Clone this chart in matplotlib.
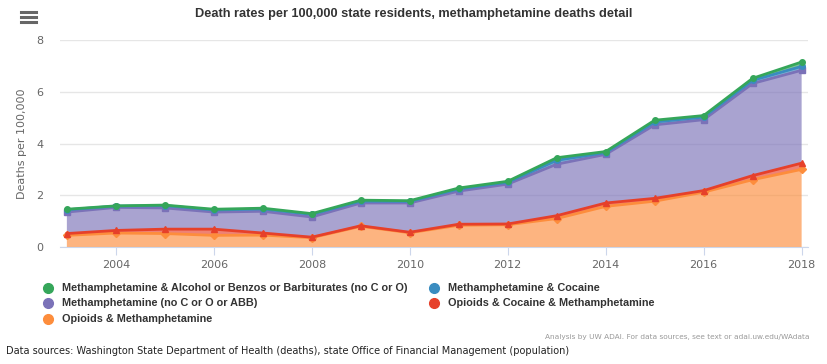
import matplotlib.pyplot as plt
from matplotlib.lines import Line2D

plt.rcParams['font.family'] = ['DejaVu Sans']
head_font = ['Liberation Sans', 'DejaVu Sans']

# data (per 100,000 residents), stacked bottom -> top
years = list(range(2003, 2019))
opioids_meth = [0.45, 0.54, 0.52, 0.45, 0.46, 0.36, 0.80, 0.55, 0.84, 0.86, 1.10, 1.57, 1.77, 2.12, 2.60, 3.00]
opioids_coc_meth = [0.07, 0.10, 0.17, 0.24, 0.08, 0.02, 0.02, 0.02, 0.04, 0.03, 0.11, 0.13, 0.11, 0.06, 0.16, 0.24]
meth_only = [0.83, 0.89, 0.82, 0.66, 0.84, 0.78, 0.88, 1.13, 1.28, 1.54, 1.99, 1.88, 2.84, 2.74, 3.56, 3.59]
meth_cocaine = [0.09, 0.05, 0.09, 0.08, 0.09, 0.10, 0.07, 0.06, 0.08, 0.07, 0.15, 0.07, 0.11, 0.10, 0.12, 0.15]
meth_alc_benz = [0.02, 0.01, 0.02, 0.03, 0.03, 0.03, 0.04, 0.03, 0.04, 0.04, 0.10, 0.04, 0.07, 0.06, 0.08, 0.17]

names = ['Opioids & Methamphetamine',
         'Opioids & Cocaine & Methamphetamine',
         'Methamphetamine (no C or O or ABB)',
         'Methamphetamine & Cocaine',
         'Methamphetamine & Alcohol or Benzos or Barbiturates (no C or O)']
colors = ['#fd8d3c', '#e6402a', '#7b72b8', '#3a8cc0', '#35a65a']
markers = ['D', '^', 's', 'o', 'o']
series = [opioids_meth, opioids_coc_meth, meth_only, meth_cocaine, meth_alc_benz]

fig = plt.figure(figsize=(8.28, 3.64), dpi=100)
ax = fig.add_axes([60 / 828, 1 - 247 / 364, 748 / 828, 207 / 364])

ax.stackplot(years, *series, colors=colors, alpha=0.65, linewidth=0)

# top lines of every stack segment
cum = [0.0] * len(years)
for vals, c, m in zip(series, colors, markers):
    cum = [a + b for a, b in zip(cum, vals)]
    ax.plot(years, cum, color=c, lw=2, marker=m, markersize=4, zorder=3)

ax.set_xlim(2002.86, 2018.13)
ax.set_ylim(0, 8)
ax.set_yticks([0, 2, 4, 6, 8])
ax.set_xticks(range(2004, 2019, 2))
ax.grid(axis='y', color='#e6e6e6', lw=1)
ax.set_axisbelow(True)
for s in ['top', 'right', 'left']:
    ax.spines[s].set_visible(False)
ax.spines['bottom'].set_color('#ccd6eb')
ax.tick_params(axis='y', length=0, labelsize=8, labelcolor='#666666', pad=12)
ax.tick_params(axis='x', length=6, color='#ccd6eb', labelsize=8, labelcolor='#666666', pad=3)
ax.set_ylabel('Deaths per 100,000', fontsize=8, color='#666666')
ax.yaxis.set_label_coords(-33 / 748, 0.5)

fig.text(0.5, 1 - 14 / 364, 'Death rates per 100,000 state residents, methamphetamine deaths detail',
         ha='center', va='center', fontsize=9.2, fontweight='bold', color='#333333', family=head_font)

# menu icon
for yy in (12, 17, 22):
    fig.add_artist(Line2D([21 / 828, 36 / 828], [1 - yy / 364] * 2, color='#666666', lw=2.2))

# legend, laid out like the original (two columns, row-major)
legend_pos = {4: (48, 288), 3: (434, 288), 2: (48, 303), 1: (434, 303), 0: (48, 319)}
for i, (lx, ly) in legend_pos.items():
    fig.add_artist(Line2D([lx / 828], [1 - ly / 364], marker='o', markersize=7,
                          color=colors[i], linestyle='none'))
    fig.text((lx + 14) / 828, 1 - ly / 364, names[i], ha='left', va='center',
             fontsize=7.8, fontweight='bold', color='#333333', family=head_font)

fig.text(810 / 828, 1 - 337 / 364, 'Analysis by UW ADAI. For data sources, see text or adai.uw.edu/WAdata',
         ha='right', va='center', fontsize=5.3, color='#999999')
fig.text(6 / 828, 1 - 351 / 364,
         'Data sources: Washington State Department of Health (deaths), state Office of Financial Management (population)',
         ha='left', va='center', fontsize=7, color='#222222')

fig.savefig('out.png', dpi=100)
